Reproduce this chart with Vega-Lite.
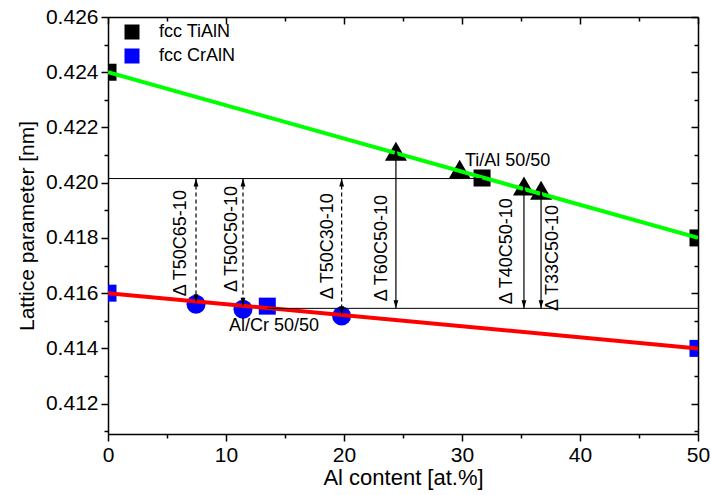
{
  "$schema": "https://vega.github.io/schema/vega-lite/v6.json",
  "width": 590,
  "height": 417,
  "autosize": {"type": "none"},
  "padding": {"left": 108, "top": 17, "right": 13, "bottom": 61},
  "config": {
    "font": "Liberation Sans",
    "view": {"stroke": null},
    "axis": {
      "grid": false,
      "domainColor": "black",
      "domainWidth": 1.5,
      "tickColor": "black",
      "tickWidth": 1.5,
      "labelColor": "black",
      "titleColor": "black",
      "labelFont": "Liberation Sans",
      "titleFont": "Liberation Sans",
      "labelFontSize": 21,
      "titleFontSize": 21,
      "titleFontWeight": "normal",
      "labelFlush": false,
      "labelOverlap": false,
      "labelBound": false
    },
    "legend": {
      "labelFont": "Liberation Sans"
    }
  },
  "datasets": {
    "squares": [
      {"x": 0, "y": 0.424, "series": "fcc TiAlN"},
      {"x": 31.7, "y": 0.42017, "series": "fcc TiAlN"},
      {"x": 50, "y": 0.418, "series": "fcc TiAlN"},
      {"x": 0, "y": 0.416, "series": "fcc CrAlN"},
      {"x": 13.5, "y": 0.41553, "series": "fcc CrAlN"},
      {"x": 50, "y": 0.414, "series": "fcc CrAlN"}
    ],
    "circles": [
      {"x": 7.46, "y": 0.4156},
      {"x": 11.44, "y": 0.41542},
      {"x": 19.8, "y": 0.41517}
    ],
    "triangles": [
      {"x": 24.4, "y": 0.42114},
      {"x": 29.8, "y": 0.42049},
      {"x": 35.25, "y": 0.41988},
      {"x": 36.7, "y": 0.41973}
    ],
    "fits": [
      {"x": 0, "y": 0.424, "fit": "TiAlN"},
      {"x": 50, "y": 0.418, "fit": "TiAlN"},
      {"x": 0, "y": 0.416, "fit": "CrAlN"},
      {"x": 50, "y": 0.414, "fit": "CrAlN"}
    ],
    "hlines": [
      {"x": 0, "x2": 31.7, "y": 0.42015},
      {"x": 13.5, "x2": 50, "y": 0.41545}
    ],
    "arrows": [
      {"x": 7.46, "y": 0.42015, "y2": 0.41567, "kind": "dashed"},
      {"x": 11.44, "y": 0.42015, "y2": 0.41554, "kind": "dashed"},
      {"x": 19.8, "y": 0.42015, "y2": 0.41524, "kind": "dashed"},
      {"x": 24.4, "y": 0.42122, "y2": 0.41545, "kind": "solid"},
      {"x": 35.25, "y": 0.41988, "y2": 0.41545, "kind": "solid"},
      {"x": 36.7, "y": 0.4197, "y2": 0.41545, "kind": "solid"}
    ],
    "vlabels": [
      {"text": "Δ T50C65-10", "x": 6.61, "y": 0.41589},
      {"text": "Δ T50C50-10", "x": 10.93, "y": 0.41604},
      {"text": "Δ T50C30-10", "x": 19.07, "y": 0.41578},
      {"text": "Δ T60C50-10", "x": 23.64, "y": 0.41571},
      {"text": "Δ T40C50-10", "x": 34.24, "y": 0.4156},
      {"text": "Δ T33C50-10", "x": 38.14, "y": 0.41535}
    ],
    "hlabels": [
      {"text": "Ti/Al 50/50", "x": 30.25, "y": 0.4206},
      {"text": "Al/Cr 50/50", "x": 10.25, "y": 0.41463}
    ]
  },
  "resolve": {"axis": {"x": "independent", "y": "independent"}},
  "layer": [
    {
      "data": {"name": "triangles"},
      "mark": {"type": "point", "shape": "triangle-up", "filled": true, "size": 484, "color": "black", "opacity": 1, "clip": true},
      "encoding": {
        "x": {
          "field": "x", "type": "quantitative",
          "scale": {"domain": [0, 50], "nice": false, "zero": false},
          "axis": {
            "orient": "top",
            "values": [0, 5, 10, 15, 20, 25, 30, 35, 40, 45, 50],
            "labels": false,
            "title": null,
            "tickSize": {"condition": {"test": "datum.value % 10 === 0", "value": -7}, "value": -4}
          }
        },
        "y": {
          "field": "y", "type": "quantitative",
          "scale": {"domain": [0.4109, 0.426], "nice": false, "zero": false},
          "axis": {
            "orient": "right",
            "values": [0.412, 0.414, 0.416, 0.418, 0.42, 0.422, 0.424, 0.426],
            "labels": false,
            "title": null,
            "tickSize": -7
          }
        }
      }
    },
    {
      "data": {"name": "circles"},
      "mark": {"type": "point", "shape": "circle", "filled": true, "size": 361, "color": "#0000ff", "opacity": 1, "clip": true},
      "encoding": {
        "x": {"field": "x", "type": "quantitative", "scale": {"domain": [0, 50], "nice": false, "zero": false}, "axis": null},
        "y": {
          "field": "y", "type": "quantitative",
          "scale": {"domain": [0.4109, 0.426], "nice": false, "zero": false},
          "axis": {
            "orient": "right",
            "values": [0.411, 0.413, 0.415, 0.417, 0.419, 0.421, 0.423, 0.425],
            "labels": false,
            "title": null,
            "domain": false,
            "tickSize": -4
          }
        }
      }
    },
    {
      "data": {"name": "squares"},
      "mark": {"type": "point", "shape": "square", "filled": true, "size": 289, "opacity": 1, "clip": true},
      "encoding": {
        "x": {"field": "x", "type": "quantitative", "scale": {"domain": [0, 50], "nice": false, "zero": false}, "axis": null},
        "y": {
          "field": "y", "type": "quantitative",
          "scale": {"domain": [0.4109, 0.426], "nice": false, "zero": false},
          "axis": {
            "orient": "left",
            "values": [0.411, 0.413, 0.415, 0.417, 0.419, 0.421, 0.423, 0.425],
            "labels": false,
            "title": null,
            "domain": false,
            "tickSize": 4
          }
        },
        "color": {
          "field": "series", "type": "nominal",
          "scale": {"domain": ["fcc TiAlN", "fcc CrAlN"], "range": ["#000000", "#0000ff"]},
          "legend": {
            "orient": "none",
            "legendX": 15,
            "legendY": 6,
            "title": null,
            "symbolType": "square",
            "symbolSize": 225,
            "symbolStrokeWidth": 0,
            "symbolOpacity": 1,
            "labelFontSize": 18,
            "labelColor": "black",
            "labelOffset": 18,
            "rowPadding": 6,
            "padding": 0
          }
        }
      }
    },
    {
      "layer": [
        {
          "data": {"name": "fits"},
          "transform": [{"filter": "datum.fit === 'TiAlN'"}],
          "mark": {"type": "line", "color": "#00ff00", "strokeWidth": 4, "clip": true},
          "encoding": {
            "x": {
              "field": "x", "type": "quantitative",
              "scale": {"domain": [0, 50], "nice": false, "zero": false},
              "axis": {
                "orient": "bottom",
                "values": [0, 5, 10, 15, 20, 25, 30, 35, 40, 45, 50],
                "labelExpr": "datum.value % 10 === 0 ? datum.label : ''",
                "tickSize": {"condition": {"test": "datum.value % 10 === 0", "value": 7}, "value": 4},
                "labelPadding": 3,
                "title": "Al content [at.%]",
                "titleFontSize": 22,
                "titlePadding": 2
              }
            },
            "y": {
              "field": "y", "type": "quantitative",
              "scale": {"domain": [0.4109, 0.426], "nice": false, "zero": false},
              "axis": {
                "orient": "left",
                "values": [0.412, 0.414, 0.416, 0.418, 0.42, 0.422, 0.424, 0.426],
                "format": ".3f",
                "tickSize": 7,
                "labelPadding": 3,
                "title": "Lattice parameter [nm]",
                "titlePadding": 8
              }
            }
          }
        },
        {
          "data": {"name": "fits"},
          "transform": [{"filter": "datum.fit === 'CrAlN'"}],
          "mark": {"type": "line", "color": "#ff0000", "strokeWidth": 4, "clip": true},
          "encoding": {
            "x": {"field": "x", "type": "quantitative", "scale": {"domain": [0, 50], "nice": false, "zero": false}},
            "y": {"field": "y", "type": "quantitative", "scale": {"domain": [0.4109, 0.426], "nice": false, "zero": false}}
          }
        },
        {
          "data": {"name": "hlines"},
          "mark": {"type": "rule", "color": "black", "strokeWidth": 1},
          "encoding": {
            "x": {"field": "x", "type": "quantitative", "scale": {"domain": [0, 50], "nice": false, "zero": false}},
            "x2": {"field": "x2"},
            "y": {"field": "y", "type": "quantitative", "scale": {"domain": [0.4109, 0.426], "nice": false, "zero": false}}
          }
        },
        {
          "data": {"name": "arrows"},
          "mark": {"type": "rule", "color": "black", "strokeWidth": 1.2},
          "encoding": {
            "x": {"field": "x", "type": "quantitative", "scale": {"domain": [0, 50], "nice": false, "zero": false}},
            "y": {"field": "y", "type": "quantitative", "scale": {"domain": [0.4109, 0.426], "nice": false, "zero": false}},
            "y2": {"field": "y2"},
            "strokeDash": {
              "field": "kind", "type": "nominal",
              "scale": {"domain": ["dashed", "solid"], "range": [[4, 3], [1, 0]]},
              "legend": null
            }
          }
        },
        {
          "data": {"name": "arrows"},
          "mark": {"type": "point", "shape": "M0,0L0.6,2L-0.6,2Z", "filled": true, "size": 64, "color": "black", "opacity": 1},
          "encoding": {
            "x": {"field": "x", "type": "quantitative", "scale": {"domain": [0, 50], "nice": false, "zero": false}},
            "y": {"field": "y", "type": "quantitative", "scale": {"domain": [0.4109, 0.426], "nice": false, "zero": false}}
          }
        },
        {
          "data": {"name": "arrows"},
          "mark": {"type": "point", "shape": "M0,0L0.6,-2L-0.6,-2Z", "filled": true, "size": 64, "color": "black", "opacity": 1},
          "encoding": {
            "x": {"field": "x", "type": "quantitative", "scale": {"domain": [0, 50], "nice": false, "zero": false}},
            "y": {"field": "y2", "type": "quantitative", "scale": {"domain": [0.4109, 0.426], "nice": false, "zero": false}}
          }
        },
        {
          "data": {"name": "vlabels"},
          "mark": {"type": "text", "angle": 270, "align": "left", "baseline": "alphabetic", "fontSize": 18, "color": "black"},
          "encoding": {
            "x": {"field": "x", "type": "quantitative", "scale": {"domain": [0, 50], "nice": false, "zero": false}},
            "y": {"field": "y", "type": "quantitative", "scale": {"domain": [0.4109, 0.426], "nice": false, "zero": false}},
            "text": {"field": "text"}
          }
        },
        {
          "data": {"name": "hlabels"},
          "mark": {"type": "text", "align": "left", "baseline": "alphabetic", "fontSize": 18, "color": "black"},
          "encoding": {
            "x": {"field": "x", "type": "quantitative", "scale": {"domain": [0, 50], "nice": false, "zero": false}},
            "y": {"field": "y", "type": "quantitative", "scale": {"domain": [0.4109, 0.426], "nice": false, "zero": false}},
            "text": {"field": "text"}
          }
        }
      ]
    }
  ]
}
